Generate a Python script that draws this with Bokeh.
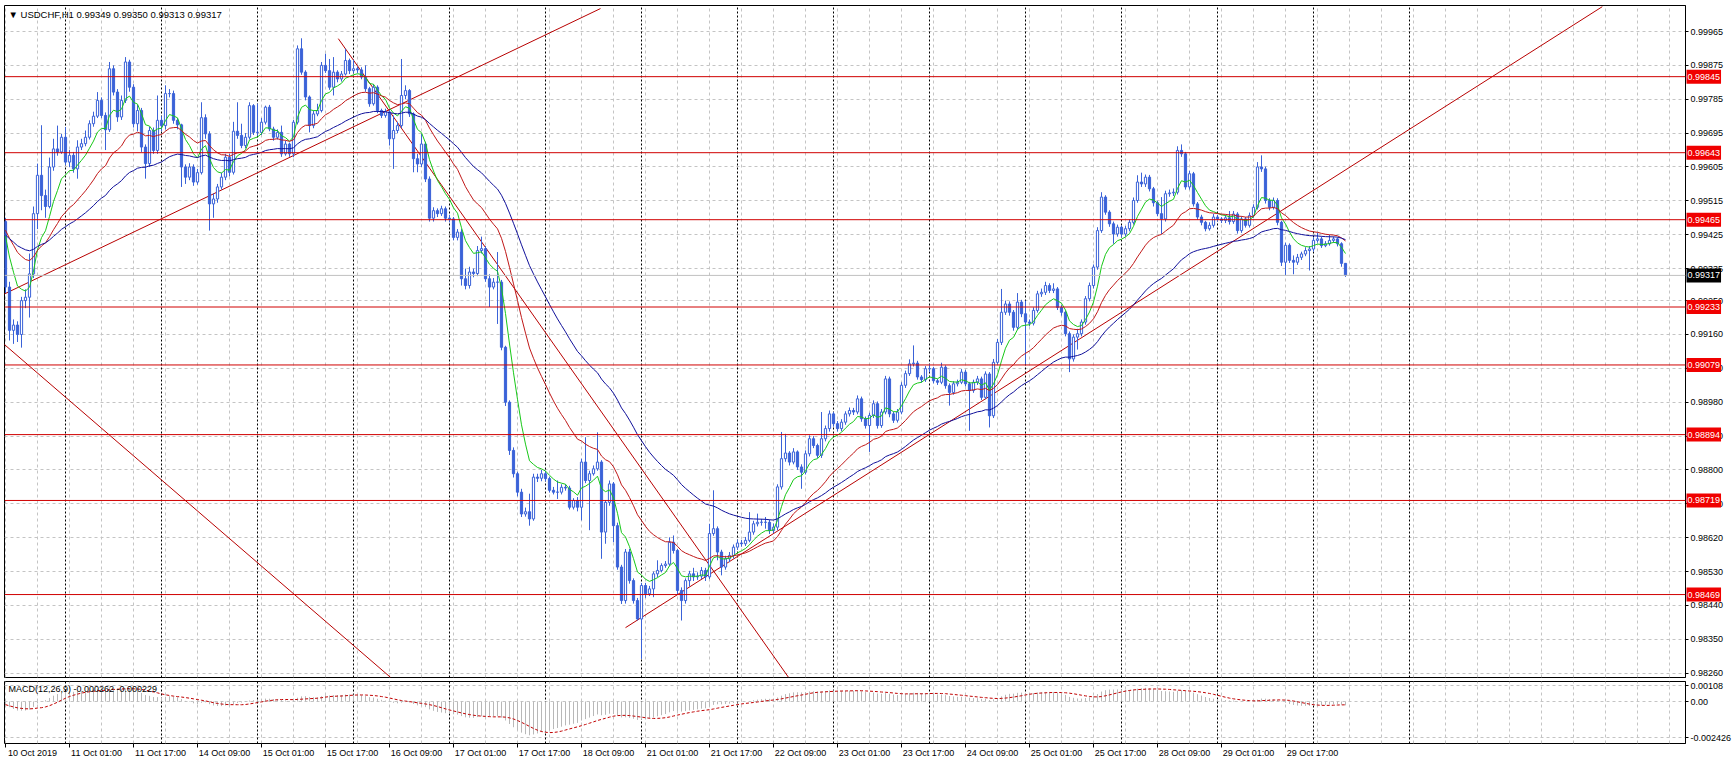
import numpy as np
import pandas as pd
from bokeh.plotting import figure
from bokeh.layouts import column
from bokeh.models import Range1d, FixedTicker, PrintfTickFormatter, Label, Span, LinearAxis
from bokeh.embed import file_html
from bokeh.resources import INLINE

# ---------------- data (prices in 1e-5 units) ----------------
symbol_title = "\u25BC USDCHF,H1  0.99349 0.99350 0.99313 0.99317"
macd_title = "MACD(12,26,9) -0.000262 -0.000229"

open_first = 99460
close_pts = [
    99286, 99171, 99185, 99160, 99250, 99259, 99321, 99481, 99583, 99529, 99500, 99605,
    99653, 99645, 99684, 99618, 99636, 99600, 99658, 99667, 99684, 99720, 99740, 99782,
    99742, 99704, 99866, 99804, 99738, 99782, 99884, 99817, 99720, 99755, 99658, 99614,
    99702, 99649, 99729, 99715, 99800, 99800, 99729, 99717, 99605, 99578, 99605, 99565,
    99590, 99736, 99693, 99507, 99520, 99552, 99578, 99631, 99591, 99700, 99689, 99662,
    99684, 99768, 99697, 99697, 99724, 99764, 99706, 99684, 99697, 99640, 99666, 99640,
    99724, 99919, 99857, 99791, 99715, 99746, 99755, 99875, 99861, 99817, 99857, 99839,
    99852, 99888, 99861, 99866, 99863, 99844, 99813, 99773, 99817, 99755, 99742, 99751,
    99680, 99702, 99715, 99795, 99808, 99746, 99627, 99613, 99666, 99573, 99469, 99489,
    99481, 99494, 99469, 99467, 99418, 99432, 99308, 99290, 99326, 99322, 99383, 99388,
    99308, 99286, 99299, 99299, 99126, 98980, 98852, 98790, 98741, 98683, 98689, 98670,
    98781, 98778, 98790, 98777, 98746, 98741, 98741, 98754, 98752, 98701, 98719, 98701,
    98821, 98772, 98790, 98803, 98821, 98635, 98714, 98763, 98652, 98542, 98453, 98582,
    98506, 98453, 98404, 98493, 98471, 98484, 98524, 98533, 98546, 98550, 98608, 98586,
    98480, 98453, 98506, 98524, 98516, 98518, 98533, 98516, 98631, 98644, 98582, 98542,
    98564, 98573, 98595, 98606, 98604, 98613, 98635, 98657, 98661, 98661, 98661, 98639,
    98648, 98755, 98830, 98845, 98821, 98848, 98808, 98794, 98843, 98883, 98865, 98839,
    98883, 98910, 98949, 98923, 98910, 98927, 98949, 98958, 98954, 98989, 98936, 98918,
    98945, 98976, 98918, 98954, 99042, 98949, 98932, 98954, 99025, 99056, 99082, 99084,
    99047, 99040, 99069, 99069, 99037, 99033, 99073, 99024, 99006, 99029, 99033, 99060,
    99029, 99011, 99033, 99042, 98993, 99055, 98944, 99086, 99139, 99219, 99241, 99219,
    99179, 99246, 99215, 99193, 99190, 99224, 99268, 99272, 99290, 99277, 99281, 99232,
    99219, 99162, 99095, 99153, 99162, 99193, 99255, 99290, 99339, 99436, 99525, 99485,
    99454, 99427, 99445, 99427, 99441, 99458, 99516, 99565, 99560, 99578, 99547, 99510,
    99481, 99467, 99534, 99536, 99538, 99649, 99640, 99552, 99587, 99507, 99472, 99458,
    99441, 99450, 99472, 99467, 99463, 99470, 99460, 99480, 99436, 99467, 99450, 99476,
    99498, 99605, 99600, 99516, 99498, 99516, 99458, 99352, 99397, 99357, 99352, 99365,
    99374, 99383, 99387, 99410, 99414, 99396, 99401, 99410, 99414, 99401, 99349, 99317,
]
high_pts = [
    99470, 99300, 99200, 99195, 99260, 99280, 99375, 99500, 99614, 99716, 99545, 99630,
    99680, 99715, 99693, 99711, 99650, 99645, 99676, 99680, 99702, 99729, 99752, 99804,
    99790, 99750, 99884, 99875, 99812, 99795, 99897, 99890, 99825, 99770, 99762, 99665,
    99712, 99710, 99795, 99740, 99822, 99812, 99808, 99735, 99720, 99612, 99615, 99612,
    99600, 99777, 99745, 99700, 99535, 99560, 99590, 99640, 99640, 99725, 99777, 99720,
    99695, 99777, 99772, 99773, 99735, 99768, 99770, 99712, 99705, 99715, 99675, 99670,
    99730, 99928, 99947, 99862, 99795, 99755, 99773, 99884, 99906, 99892, 99897, 99862,
    99860, 99919, 99893, 99890, 99872, 99870, 99875, 99818, 99825, 99822, 99760, 99760,
    99756, 99742, 99725, 99892, 99822, 99812, 99750, 99640, 99693, 99672, 99580, 99498,
    99495, 99502, 99500, 99478, 99472, 99440, 99440, 99335, 99340, 99335, 99395, 99420,
    99395, 99320, 99310, 99379, 99305, 99130, 98985, 98860, 98795, 98750, 98700, 98737,
    98790, 98790, 98800, 98798, 98782, 98755, 98772, 98762, 98762, 98758, 98725, 98728,
    98830, 98887, 98798, 98812, 98900, 98826, 98720, 98772, 98768, 98660, 98548, 98590,
    98590, 98512, 98460, 98500, 98500, 98492, 98530, 98560, 98552, 98558, 98621, 98626,
    98590, 98488, 98512, 98532, 98540, 98528, 98542, 98540, 98657, 98746, 98650, 98588,
    98572, 98582, 98602, 98615, 98614, 98622, 98688, 98665, 98684, 98670, 98675, 98668,
    98658, 98762, 98901, 98896, 98850, 98858, 98852, 98815, 98852, 98892, 98890, 98870,
    98954, 98918, 98958, 98954, 98930, 98935, 98956, 98966, 98965, 98998, 98995, 98942,
    98952, 98985, 98982, 98962, 99050, 99048, 98955, 98962, 99033, 99064, 99094, 99131,
    99090, 99052, 99076, 99082, 99074, 99042, 99085, 99078, 99030, 99036, 99040, 99068,
    99066, 99034, 99040, 99050, 99048, 99062, 99060, 99095, 99148, 99281, 99250, 99248,
    99225, 99270, 99252, 99250, 99200, 99232, 99276, 99282, 99300, 99296, 99296, 99286,
    99238, 99224, 99168, 99160, 99175, 99200, 99262, 99298, 99346, 99445, 99538, 99530,
    99490, 99460, 99452, 99450, 99448, 99466, 99524, 99583, 99590, 99585, 99584, 99552,
    99515, 99525, 99542, 99545, 99548, 99660, 99665, 99645, 99595, 99592, 99512, 99478,
    99462, 99458, 99480, 99478, 99472, 99478, 99488, 99488, 99485, 99474, 99472, 99484,
    99506, 99618, 99636, 99606, 99522, 99524, 99522, 99462, 99404, 99402, 99370, 99374,
    99380, 99392, 99395, 99418, 99430, 99420, 99408, 99425, 99420, 99418, 99405, 99350,
]
low_pts = [
    99270, 99144, 99135, 99140, 99125, 99230, 99205, 99310, 99440, 99490, 99470, 99495,
    99595, 99635, 99640, 99610, 99605, 99590, 99574, 99650, 99660, 99678, 99712, 99735,
    99735, 99650, 99698, 99795, 99725, 99730, 99775, 99805, 99710, 99700, 99645, 99574,
    99605, 99640, 99640, 99700, 99705, 99790, 99720, 99705, 99552, 99560, 99570, 99555,
    99558, 99585, 99680, 99436, 99470, 99510, 99545, 99570, 99580, 99585, 99680, 99655,
    99655, 99678, 99690, 99688, 99690, 99718, 99700, 99675, 99678, 99632, 99635, 99632,
    99631, 99718, 99850, 99782, 99697, 99708, 99740, 99750, 99855, 99810, 99795, 99830,
    99832, 99848, 99852, 99855, 99855, 99838, 99805, 99765, 99768, 99748, 99735, 99736,
    99662, 99600, 99695, 99708, 99785, 99738, 99591, 99591, 99605, 99565, 99460, 99460,
    99472, 99475, 99460, 99458, 99410, 99410, 99290, 99280, 99282, 99312, 99315, 99375,
    99300, 99233, 99280, 99188, 99118, 98970, 98840, 98780, 98730, 98675, 98676, 98652,
    98665, 98768, 98770, 98770, 98740, 98735, 98723, 98735, 98745, 98695, 98695, 98690,
    98666, 98765, 98640, 98785, 98798, 98564, 98604, 98705, 98608, 98535, 98444, 98445,
    98498, 98445, 98400, 98298, 98460, 98465, 98462, 98515, 98528, 98540, 98545, 98578,
    98470, 98400, 98445, 98490, 98505, 98508, 98510, 98505, 98510, 98625, 98560, 98520,
    98535, 98555, 98565, 98588, 98596, 98598, 98608, 98628, 98650, 98652, 98644, 98630,
    98632, 98640, 98748, 98822, 98812, 98815, 98800, 98750, 98788, 98836, 98858, 98832,
    98832, 98876, 98902, 98915, 98902, 98903, 98920, 98942, 98946, 98948, 98928, 98910,
    98848, 98938, 98910, 98912, 98948, 98940, 98925, 98926, 98948, 99018, 99050, 99075,
    99040, 99032, 99034, 99060, 99030, 99026, 99028, 99016, 98971, 99000, 99022, 99028,
    99022, 98904, 99005, 99026, 98986, 98988, 98913, 98938, 99080, 99132, 99212, 99210,
    99170, 99172, 99206, 99080, 99182, 99184, 99218, 99260, 99265, 99270, 99270, 99225,
    99210, 99155, 99060, 99088, 99120, 99155, 99186, 99248, 99282, 99332, 99430, 99478,
    99446, 99401, 99420, 99418, 99420, 99434, 99452, 99510, 99552, 99552, 99540, 99500,
    99474, 99427, 99460, 99526, 99528, 99532, 99632, 99545, 99545, 99500, 99465, 99450,
    99434, 99436, 99444, 99460, 99456, 99456, 99452, 99454, 99428, 99430, 99444, 99444,
    99470, 99492, 99592, 99508, 99490, 99492, 99450, 99342, 99317, 99350, 99320, 99345,
    99358, 99368, 99330, 99380, 99404, 99390, 99392, 99396, 99404, 99394, 99340, 99313,
]

tick_labels = [
    "10 Oct 2019", "11 Oct 01:00", "11 Oct 17:00", "14 Oct 09:00", "15 Oct 01:00",
    "15 Oct 17:00", "16 Oct 09:00", "17 Oct 01:00", "17 Oct 17:00", "18 Oct 09:00",
    "21 Oct 01:00", "21 Oct 17:00", "22 Oct 09:00", "23 Oct 01:00", "23 Oct 17:00",
    "24 Oct 09:00", "25 Oct 01:00", "25 Oct 17:00", "28 Oct 09:00", "29 Oct 01:00",
    "29 Oct 17:00",
]
price_ticks = [0.99965, 0.99875, 0.99785, 0.99695, 0.99605, 0.99515, 0.99425, 0.99335,
               0.99250, 0.99160, 0.99070, 0.98980, 0.98890, 0.98800, 0.98710, 0.98620,
               0.98530, 0.98440, 0.98350, 0.98260]
level_prices = [0.99845, 0.99643, 0.99465, 0.99233, 0.99079, 0.98894, 0.98719, 0.98469]
last_price = 0.99317
macd_ticks = [0.00108, 0.0, -0.002426]
macd_tick_text = ["0.00108", "0.00", "-0.002426"]

# trend lines: (bar, price) -> (bar, price)
trend_x0 = [-1.0, -1.0, 83.2, 155.0]
trend_p0 = [0.99264, 0.99140, 0.99946, 0.98381]
trend_x1 = [148.75, 96.25, 195.75, 399.2]
trend_p1 = [1.00026, 0.98249, 0.98249, 1.00031]

ma_periods = [8, 24, 50]
ma_seeds = [0.99460, 0.99450, 0.99430]
ma_colors = ["#18C818", "#C01818", "#10109A"]
macd_seed_fast, macd_seed_slow = 0.99430, 0.99440

# ---------------- derived ----------------
close = np.array(close_pts) / 1e5
high = np.array(high_pts) / 1e5
low = np.array(low_pts) / 1e5
opn = np.concatenate([[open_first / 1e5], close[:-1]])
n = len(close)
bars = np.arange(n)
high = np.maximum(high, np.maximum(opn, close))
low = np.minimum(low, np.minimum(opn, close))


def ema(vals, period, seed):
    a = 2.0 / (period + 1)
    out = np.empty(len(vals))
    prev = seed
    for i, v in enumerate(vals):
        prev += a * (v - prev)
        out[i] = prev
    return out


macd = ema(close, 12, macd_seed_fast) - ema(close, 26, macd_seed_slow)
signal = pd.Series(macd).rolling(9, min_periods=1).mean().values

# ---------------- layout constants ----------------
W = 1733
FW = 1681
LB = 4
RB = W - FW - LB
X0, X1 = -0.25, 420.0
Y0, Y1 = 0.982486, 1.000341
M0, M1 = -0.00283, 0.00135
H1, H2 = 672, 62
FONT = "Liberation Sans"
FS = "9px"
BLUE = "#3A62D8"
GRID = "#C4C4C4"
RED = "#D00000"
LABEL_SHIFT = 6.75  # bars: puts the time labels to the right of their tick, as MT4 does

x_range = Range1d(X0, X1)
grid_ticks = list(range(0, 421, 8))
sep_bars = list(range(15, 352, 24))


def style(p):
    p.background_fill_color = "white"
    p.border_fill_color = "white"
    p.outline_line_color = "black"
    p.outline_line_width = 1
    p.outline_line_alpha = 1
    for ax in p.yaxis:
        ax.axis_line_color = "black"
        ax.major_tick_out = 3
        ax.major_tick_in = 0
        ax.minor_tick_line_color = None
        ax.major_label_text_font = FONT
        ax.major_label_text_font_size = FS
        ax.major_label_text_color = "black"
        ax.major_label_standoff = 2
    p.xgrid.ticker = FixedTicker(ticks=grid_ticks)
    for g in (p.xgrid, p.ygrid):
        g.grid_line_color = GRID
        g.grid_line_dash = "3 3"
        g.grid_line_width = 1


def price_box(y, bg):
    kw = dict(x=X1, y=y, x_offset=1, text="%.5f" % y, text_font=FONT, text_font_size=FS,
              text_color="white", text_align="left", text_baseline="middle",
              background_fill_color=bg)
    try:
        return Label(padding=(1, 4), **kw)
    except Exception:
        return Label(padding=1, **kw)


# ---------------- main price panel ----------------
p1 = figure(frame_width=FW, frame_height=H1, x_range=x_range, y_range=Range1d(Y0, Y1),
            output_backend="svg", toolbar_location=None, x_axis_location=None,
            y_axis_location="right", min_border_left=LB, min_border_right=RB,
            min_border_top=5, min_border_bottom=3)
style(p1)
p1.yaxis.ticker = FixedTicker(ticks=price_ticks)
p1.yaxis.formatter = PrintfTickFormatter(format="%.5f")
p1.ygrid.ticker = FixedTicker(ticks=price_ticks)

# day separators
p1.segment(x0=sep_bars, y0=[Y0] * len(sep_bars), x1=sep_bars, y1=[Y1] * len(sep_bars),
           line_color="black", line_dash="2 2", line_width=1)

# current price line
p1.add_layout(Span(location=last_price, dimension="width", line_color="#C0C0C0", line_width=1))
# horizontal levels
for lv in level_prices:
    p1.add_layout(Span(location=lv, dimension="width", line_color=RED, line_width=1))

# trend lines
p1.segment(x0=trend_x0, y0=trend_p0, x1=trend_x1, y1=trend_p1, line_color="#B80000", line_width=1)

# candles
up = close >= opn
body_top = np.maximum(opn, close)
body_bot = np.minimum(opn, close)
p1.segment(x0=bars, y0=low, x1=bars, y1=high, line_color=BLUE, line_width=1)
p1.vbar(x=bars[up], width=0.55, top=body_top[up], bottom=body_bot[up],
        fill_color="white", line_color=BLUE, line_width=1)
p1.vbar(x=bars[~up], width=0.55, top=body_top[~up], bottom=body_bot[~up],
        fill_color=BLUE, line_color=BLUE, line_width=1)

# moving averages
for per, seed, col in zip(ma_periods, ma_seeds, ma_colors):
    p1.line(bars, ema(close, per, seed), line_color=col, line_width=1)

# price labels on the right axis (side-panel labels are not clipped to the frame)
for lv in level_prices:
    p1.add_layout(price_box(lv, "#F00000"), "right")
p1.add_layout(price_box(last_price, "black"), "right")

# title
py = (Y1 - Y0) / H1
p1.add_layout(Label(x=X0, y=Y1 - 9 * py, x_offset=4, text=symbol_title, text_font=FONT,
                    text_font_size="9.5px", text_color="black", text_align="left",
                    text_baseline="middle"))

# ---------------- MACD panel ----------------
p2 = figure(frame_width=FW, frame_height=H2, x_range=x_range, y_range=Range1d(M0, M1),
            output_backend="svg", toolbar_location=None, x_axis_location="below",
            y_axis_location="right", min_border_left=LB, min_border_right=RB,
            min_border_top=1, min_border_bottom=20)
style(p2)
p2.yaxis.ticker = FixedTicker(ticks=macd_ticks)
p2.yaxis.major_label_overrides = dict(zip(macd_ticks, macd_tick_text))
p2.ygrid.ticker = FixedTicker(ticks=macd_ticks)

label_bars = [16 * k for k in range(len(tick_labels))]
# axis with the tick marks only
xa = p2.xaxis[0]
xa.ticker = FixedTicker(ticks=label_bars)
xa.major_label_overrides = {b: "" for b in label_bars}
xa.major_label_text_font_size = "1px"
xa.major_label_standoff = 0
xa.axis_line_color = None
xa.major_tick_out = 4
xa.major_tick_in = 0
xa.major_tick_line_color = "black"
xa.minor_tick_line_color = None
# axis with the time labels, starting at their tick like MT4
label_pos = [b + LABEL_SHIFT for b in label_bars]
xb = LinearAxis(ticker=FixedTicker(ticks=label_pos),
                major_label_overrides=dict(zip(label_pos, tick_labels)))
xb.axis_line_color = None
xb.major_tick_line_color = None
xb.major_tick_out = 0
xb.major_tick_in = 0
xb.minor_tick_line_color = None
xb.major_label_standoff = 0
xb.major_label_text_font = FONT
xb.major_label_text_font_size = FS
xb.major_label_text_color = "black"
p2.add_layout(xb, "below")

p2.segment(x0=sep_bars, y0=[M0] * len(sep_bars), x1=sep_bars, y1=[M1] * len(sep_bars),
           line_color="black", line_dash="2 2", line_width=1)
p2.segment(x0=bars, y0=np.zeros(n), x1=bars, y1=macd, line_color="#B8B8B8", line_width=1)
p2.line(bars, signal, line_color="#C00000", line_dash="3 2", line_width=1)
my = (M1 - M0) / H2
p2.add_layout(Label(x=X0, y=M1 - 7 * my, x_offset=4, text=macd_title, text_font=FONT,
                    text_font_size=FS, text_color="black", text_align="left",
                    text_baseline="middle"))

layout = column(p1, p2, spacing=0)
open("out.html", "w").write(file_html(layout, INLINE))
